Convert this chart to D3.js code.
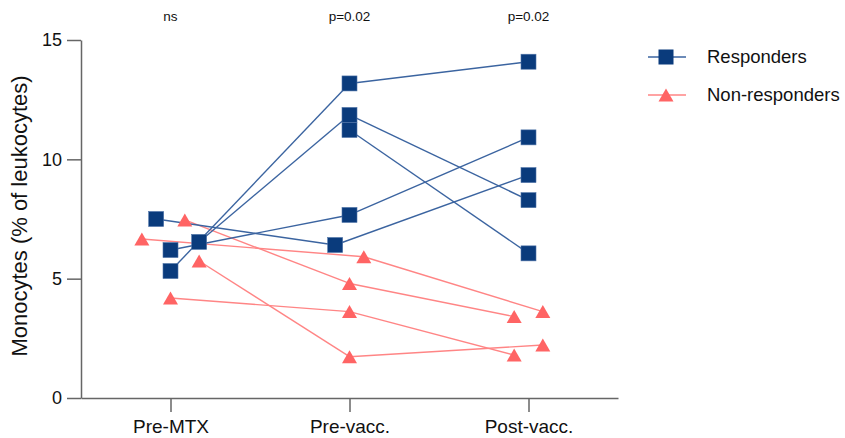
<!DOCTYPE html>
<meta charset="utf-8">
<style>
  body { margin: 0; background: #fff; }
  svg { font-family: "Liberation Sans", Arial, sans-serif; }
  .axis path, .axis line { stroke: #666; stroke-width: 1.5; }
  .axis text { fill: #111; }
</style>
<body>
<script src="https://cdnjs.cloudflare.com/ajax/libs/d3/7.8.5/d3.min.js"></script>
<script>

var width = 845,
    height = 438;

// data
var timepoints = ["Pre-MTX", "Pre-vacc.", "Post-vacc."];
var pLabels = ["ns", "p=0.02", "p=0.02"];
var yTicks = [0, 5, 10, 15];

// one row per patient: [Pre-MTX, Pre-vacc., Post-vacc.]
var responders = [
  [7.50, 6.41, 9.34],
  [6.20, 7.67, 10.92],
  [5.32, 13.18, 14.09],
  [6.54, 11.86, 8.29],
  [null, 11.23, 6.06]
];
var nonResponders = [
  [6.66, 5.92, 3.62],
  [7.46, 4.80, 3.41],
  [4.19, 3.62, 1.80],
  [5.74, 1.73, 2.22]
];
// scatter offsets (in marker slots) so overlapping points stay visible
var respJitter = [[-1, -1, 0], [0, 0, 0], [0, 0, 0], [2, 0, 0], [0, 0, 0]];
var nonJitter = [[-2, 1, 1], [1, 0, -1], [0, 0, -1], [2, 0, 1]];

var blue = "#0a3b7c", blueLine = "#3b64a0";
var red = "#ff6464", redLine = "#ff8585";

var svg = d3.select("body").append("svg")
    .attr("width", width)
    .attr("height", height);

var x = d3.scalePoint()
    .domain(timepoints)
    .range([81, 618])
    .padding(0.5);

var y = d3.scaleLinear()
    .domain([0, 15])
    .range([398, 40]);

var slot = x.step() * 0.08;

function px(i, j) { return x(timepoints[i]) + j * slot; }

// axes
svg.append("g")
    .attr("class", "axis")
    .attr("transform", "translate(0,398)")
    .call(d3.axisBottom(x).tickSize(14).tickSizeOuter(0).tickPadding(8))
    .call(function(g) { g.selectAll("text").attr("font-size", 19).attr("dy", "0.71em"); });

svg.append("g")
    .attr("class", "axis")
    .attr("transform", "translate(81,0)")
    .call(d3.axisLeft(y).tickValues(yTicks).tickSize(14).tickSizeOuter(0).tickPadding(5))
    .call(function(g) { g.selectAll("text").attr("font-size", 18); });

svg.append("text")
    .attr("transform", "translate(27,216) rotate(-90)")
    .attr("text-anchor", "middle")
    .attr("font-size", 22)
    .attr("fill", "#111")
    .text("Monocytes (% of leukocytes)");

// p-value labels
svg.selectAll(".plab")
    .data(pLabels)
  .enter().append("text")
    .attr("class", "plab")
    .attr("x", function(d, i) { return x(timepoints[i]); })
    .attr("y", 21)
    .attr("text-anchor", "middle")
    .attr("font-size", 13.5)
    .attr("fill", "#111")
    .text(function(d) { return d; });

function segments(rows, jit) {
  var segs = [];
  rows.forEach(function(r, k) {
    for (var i = 0; i < r.length - 1; i++) {
      if (r[i] == null || r[i + 1] == null) continue;
      segs.push([[px(i, jit[k][i]), y(r[i])], [px(i + 1, jit[k][i + 1]), y(r[i + 1])]]);
    }
  });
  return segs;
}

function points(rows, jit) {
  var pts = [];
  rows.forEach(function(r, k) {
    r.forEach(function(v, i) {
      if (v != null) pts.push([px(i, jit[k][i]), y(v)]);
    });
  });
  return pts;
}

var line = d3.line();

svg.append("g").selectAll("path")
    .data(segments(nonResponders, nonJitter))
  .enter().append("path")
    .attr("d", line)
    .attr("stroke", redLine)
    .attr("stroke-width", 1.4)
    .attr("fill", "none");

svg.append("g").selectAll("path")
    .data(segments(responders, respJitter))
  .enter().append("path")
    .attr("d", line)
    .attr("stroke", blueLine)
    .attr("stroke-width", 1.4)
    .attr("fill", "none");

function tri(cx, cy) {
  var w = 7.5, h = 6.5;
  return "M" + cx + "," + (cy - h) + "L" + (cx + w) + "," + (cy + h) + "L" + (cx - w) + "," + (cy + h) + "Z";
}

svg.append("g").selectAll("path")
    .data(points(nonResponders, nonJitter))
  .enter().append("path")
    .attr("d", function(d) { return tri(d[0], d[1]); })
    .attr("fill", red);

svg.append("g").selectAll("rect")
    .data(points(responders, respJitter))
  .enter().append("rect")
    .attr("x", function(d) { return d[0] - 7.5; })
    .attr("y", function(d) { return d[1] - 7.5; })
    .attr("width", 15)
    .attr("height", 15)
    .attr("fill", blue)
    .attr("stroke", "#4f74a8")
    .attr("stroke-width", 0.6);

// legend
var legend = [
  {name: "Responders", color: blue, line: blueLine, shape: "square"},
  {name: "Non-responders", color: red, line: redLine, shape: "triangle"}
];

var lg = svg.append("g").selectAll("g")
    .data(legend)
  .enter().append("g")
    .attr("transform", function(d, i) { return "translate(666," + (57 + i * 38) + ")"; });

lg.append("line")
    .attr("x1", -18).attr("x2", 20)
    .attr("stroke", function(d) { return d.line; })
    .attr("stroke-width", 1.4);

lg.each(function(d) {
  var g = d3.select(this);
  if (d.shape === "square") {
    g.append("rect").attr("x", -7.5).attr("y", -7.5).attr("width", 15).attr("height", 15)
      .attr("fill", d.color);
  } else {
    g.append("path").attr("d", tri(0, 0)).attr("fill", d.color);
  }
});

lg.append("text")
    .attr("x", 41)
    .attr("y", 6)
    .attr("font-size", 18.5)
    .attr("fill", "#111")
    .text(function(d) { return d.name; });

</script>
